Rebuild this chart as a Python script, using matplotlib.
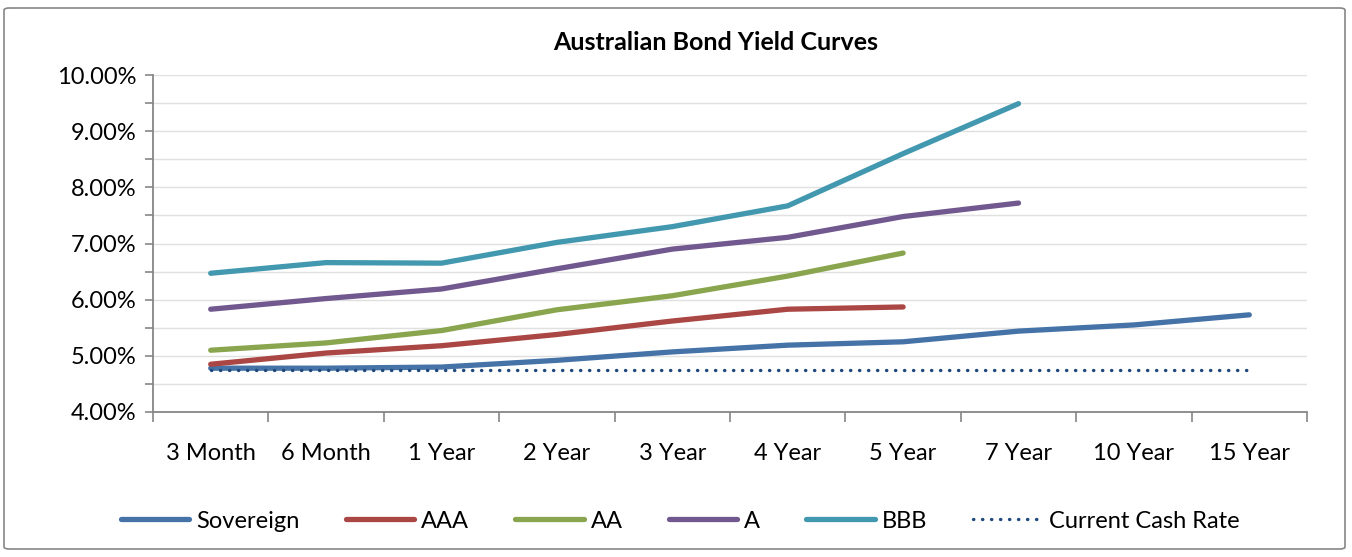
import matplotlib
matplotlib.use("Agg")
import matplotlib.pyplot as plt
from matplotlib.patches import FancyBboxPatch
from matplotlib.ticker import MultipleLocator, FuncFormatter
import numpy as np

categories = ["3 Month", "6 Month", "1 Year", "2 Year", "3 Year", "4 Year", "5 Year", "7 Year", "10 Year", "15 Year"]
sovereign = [4.78, 4.78, 4.80, 4.92, 5.07, 5.19, 5.25, 5.44, 5.55, 5.73]
aaa = [4.85, 5.05, 5.18, 5.38, 5.62, 5.83, 5.87]
aa = [5.10, 5.23, 5.45, 5.82, 6.07, 6.42, 6.83]
a_rating = [5.83, 6.02, 6.19, 6.55, 6.90, 7.11, 7.48, 7.72]
bbb = [6.47, 6.66, 6.65, 7.02, 7.30, 7.67, 8.60, 9.49]
cash_rate = [4.75] * 10

plt.rcParams['font.family'] = ['Lato', 'DejaVu Sans']

fig = plt.figure(figsize=(13.52, 5.57), dpi=100)
ax = fig.add_axes([153/1352, 1-412/557, (1307-153)/1352, (412-75)/557])

x = np.arange(len(categories))
lw = 3.8
ax.plot(x, sovereign, color="#4572A7", lw=lw, solid_capstyle="round", label="Sovereign", zorder=3)
ax.plot(x[:len(aaa)], aaa, color="#AA4643", lw=lw, solid_capstyle="round", label="AAA", zorder=3)
ax.plot(x[:len(aa)], aa, color="#89A54E", lw=lw, solid_capstyle="round", label="AA", zorder=3)
ax.plot(x[:len(a_rating)], a_rating, color="#71588F", lw=lw, solid_capstyle="round", label="A", zorder=3)
ax.plot(x[:len(bbb)], bbb, color="#4198AF", lw=lw, solid_capstyle="round", label="BBB", zorder=3)
ax.plot(x, cash_rate, color="#1F497D", lw=2.4, linestyle=(0, (0.1, 2.6)), dash_capstyle="round",
        label="Current Cash Rate", zorder=4)

ax.set_xlim(-0.5, len(categories) - 0.5)
ax.set_ylim(4.0, 10.0)
ax.yaxis.set_major_locator(MultipleLocator(1.0))
ax.yaxis.set_minor_locator(MultipleLocator(0.5))
ax.yaxis.set_major_formatter(FuncFormatter(lambda v, p: f"{v:.2f}%"))
ax.grid(which="both", axis="y", color="#E0E0E0", lw=1.0, zorder=0)
ax.set_xticks(x)
ax.set_xticklabels(categories)
ax.set_xticks(np.arange(len(categories) + 1) - 0.5, minor=True)
ax.tick_params(axis="x", which="major", length=0, pad=22, labelsize=17)
ax.tick_params(axis="x", which="minor", length=7, color="#868686", width=1.2, direction="out")
ax.tick_params(axis="y", which="both", length=6, color="#868686", width=1.2, labelsize=17, pad=6)
for s in ["top", "right"]:
    ax.spines[s].set_visible(False)
for s in ["left", "bottom"]:
    ax.spines[s].set_color("#868686")
    ax.spines[s].set_linewidth(1.3)

fig.text(0.529, 1 - 43/557, "Australian Bond Yield Curves", ha="center", va="center",
         fontsize=18, fontweight="bold")

fig.legend(loc="center", bbox_to_anchor=(0.503, 1 - 521/557), ncol=6, frameon=False,
           fontsize=17, handlelength=2.9, columnspacing=1.95, handletextpad=0.3)

border = FancyBboxPatch((4/1352, 8/557), (1345-4)/1352, (549-8)/557, boxstyle="round,pad=0,rounding_size=0.004",
                        transform=fig.transFigure, fill=False, edgecolor="#868686", lw=1.2)
fig.patches.append(border)

fig.savefig("out.png", dpi=100)
